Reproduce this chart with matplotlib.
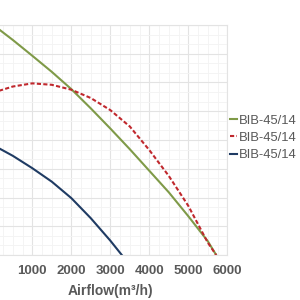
import matplotlib.pyplot as plt
from matplotlib.ticker import MultipleLocator

# airflow (m3/h) vs pressure
green_x = [0, 500, 1000, 1500, 2000, 2500, 3000, 3500, 4000, 4500, 5000, 5500, 5715]
green_y = [800, 748, 693, 637, 577, 510, 440, 368, 293, 218, 135, 48, 0]

red_x = [0, 500, 1000, 1500, 2000, 2500, 3000, 3500, 4000, 4500, 5000, 5500, 5715]
red_y = [565, 586, 597, 592, 575, 546, 504, 447, 365, 275, 171, 43, 0]

blue_x = [0, 500, 1000, 1500, 2000, 2500, 3000, 3295]
blue_y = [382, 345, 302, 255, 198, 128, 50, 0]

labels = ['BIB-45/14', 'BIB-45/14', 'BIB-45/14']
x_ticks = [1000, 2000, 3000, 4000, 5000, 6000]

plt.rcParams['font.family'] = ['Liberation Sans', 'DejaVu Sans']

fig = plt.figure(figsize=(3, 3), dpi=100)
ax = fig.add_axes([-6.7 / 300, 45 / 300, 234 / 300, 230 / 300])

ax.plot(green_x, green_y, color='#7f9a48', lw=1.5, label=labels[0])
ax.plot(red_x, red_y, color='#c0282d', lw=1.5, ls=(0, (2.0, 1.1)), label=labels[1])
ax.plot(blue_x, blue_y, color='#1f3b63', lw=1.5, label=labels[2])

ax.set_xlim(0, 6000)
ax.set_ylim(0, 800)
ax.set_xticks(x_ticks)
ax.xaxis.set_minor_locator(MultipleLocator(250))
ax.yaxis.set_major_locator(MultipleLocator(100))
ax.yaxis.set_minor_locator(MultipleLocator(100 / 3))
ax.grid(True, which='major', color='#e3e3e3', lw=0.8)
ax.grid(True, which='minor', color='#f3f3f3', lw=0.6)
ax.set_axisbelow(True)
for s in ax.spines.values():
    s.set_color('#e3e3e3')
    s.set_linewidth(0.8)

ax.tick_params(axis='both', which='both', length=0)
ax.tick_params(axis='x', pad=7, labelsize=9.5, labelcolor='#595959')
for t in ax.get_xticklabels():
    t.set_fontweight('bold')
ax.set_yticklabels([])

ax.set_xlabel('Airflow(m³/h)', fontsize=10, fontweight='bold', color='#595959', labelpad=5)

leg = fig.legend(loc='center left', bbox_to_anchor=(230 / 300, 1 - 138 / 300), frameon=False,
                 handlelength=0.55, handletextpad=0.15, labelspacing=0.4,
                 fontsize=9.4, borderaxespad=0, borderpad=0)
for t in leg.get_texts():
    t.set_color('#595959')

fig.savefig('out.png', dpi=100)
